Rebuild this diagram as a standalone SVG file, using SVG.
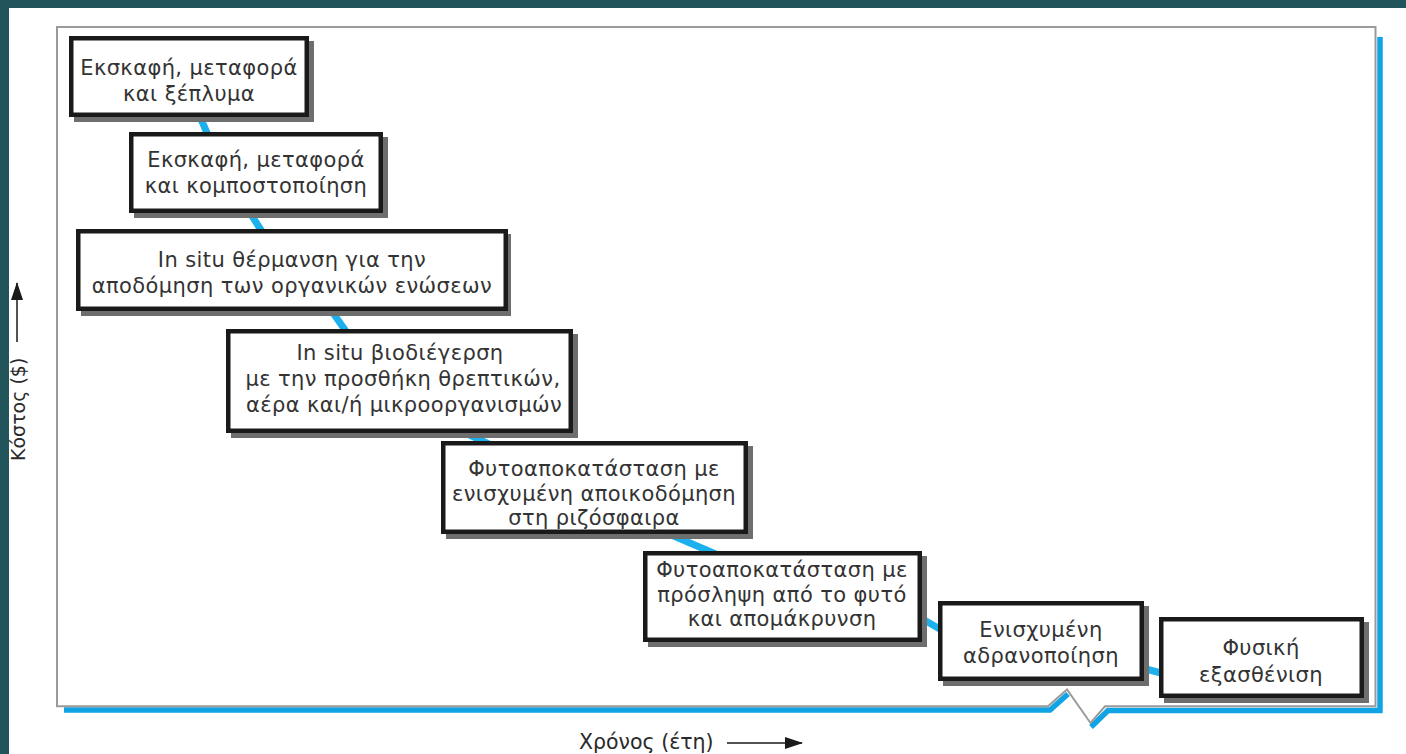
<svg xmlns="http://www.w3.org/2000/svg" width="1406" height="754" viewBox="0 0 1406 754">
<defs>
<style>
.bg{fill:#22555b}
.shadow{fill:#6e6e6e}
.box{fill:#fff;stroke:#1a1a1a;stroke-width:4.5}
.t{font-family:"DejaVu Sans","Noto Sans",sans-serif;font-size:21px;letter-spacing:0.4px;fill:#333;text-anchor:middle}
.ax{font-family:"DejaVu Sans","Noto Sans",sans-serif;font-size:19px;fill:#2a2a2a}
.conn{stroke:#1cb0ec;stroke-width:7;fill:none}
.frame{fill:none;stroke:#9a9a9a;stroke-width:2}
.fshadow{fill:none;stroke:#10a4e4;stroke-width:5.5;stroke-linejoin:miter}
</style>
<marker id="ah" markerWidth="18" markerHeight="12" refX="17" refY="6" orient="auto" markerUnits="userSpaceOnUse">
<path d="M0,0 L18,6 L0,12 z" fill="#1a1a1a"/>
</marker>
</defs>
<rect x="0" y="0" width="1406" height="754" fill="#fff"/>
<rect class="bg" x="0" y="0" width="1406" height="8"/>
<rect class="bg" x="0" y="0" width="9" height="754"/>

<g id="frame">
<path class="fshadow" d="M64,710 L1050,710 L1068,694"/>
<path class="fshadow" d="M1091,727 L1108,710.5 L1380,710.5 L1380,37"/>
<path class="frame" d="M1048,706.3 L57,706.3 L57,27 L1375.5,27 L1375.5,706.3 L1105,706.3 L1090.5,723 L1067,689.5 Z" stroke-linejoin="miter"/>
</g>

<g id="connectors">
<path class="conn" d="M195,105 L210,140 M245,205 L266,238 M326,303 L350,337 M455,428 L495,447 M655,528 L718,555 M912,613 L945,632 M1138,667 L1165,674"/>
</g>

<g id="node1">
<rect class="shadow" x="74" y="41" width="240" height="81"/>
<rect class="box" x="71.25" y="38.25" width="235.5" height="76.5"/>
<text class="t" x="189" y="75">Εκσκαφή, μεταφορά</text>
<text class="t" x="189" y="101">και ξέπλυμα</text>
</g>
<g id="node2">
<rect class="shadow" x="134" y="137" width="254" height="81"/>
<rect class="box" x="131.25" y="134.25" width="249.5" height="76.5"/>
<text class="t" x="256" y="167">Εκσκαφή, μεταφορά</text>
<text class="t" x="256" y="193">και κομποστοποίηση</text>
</g>
<g id="node3">
<rect class="shadow" x="81" y="234" width="430" height="82"/>
<rect class="box" x="78.25" y="231.25" width="427.5" height="77.5"/>
<text class="t" x="292" y="267">In situ θέρμανση για την</text>
<text class="t" x="292" y="293">αποδόμηση των οργανικών ενώσεων</text>
</g>
<g id="node4">
<rect class="shadow" x="231" y="334" width="347" height="104"/>
<rect class="box" x="228.25" y="331.25" width="342.5" height="99.5"/>
<text class="t" x="400" y="360">In situ βιοδιέγερση</text>
<text class="t" x="403" y="386">με την προσθήκη θρεπτικών,</text>
<text class="t" x="404" y="412">αέρα και/ή μικροοργανισμών</text>
</g>
<g id="node5">
<rect class="shadow" x="446" y="446" width="307" height="93"/>
<rect class="box" x="443.25" y="443.25" width="302.5" height="88.5"/>
<text class="t" x="594" y="476">Φυτοαποκατάσταση με</text>
<text class="t" x="594" y="501">ενισχυμένη αποικοδόμηση</text>
<text class="t" x="594" y="525">στη ριζόσφαιρα</text>
</g>
<g id="node6">
<rect class="shadow" x="648" y="556" width="279" height="91"/>
<rect class="box" x="645.25" y="553.25" width="274.5" height="86.5"/>
<text class="t" x="782" y="577">Φυτοαποκατάσταση με</text>
<text class="t" x="782" y="602">πρόσληψη από το φυτό</text>
<text class="t" x="782" y="626">και απομάκρυνση</text>
</g>
<g id="node7">
<rect class="shadow" x="943" y="606" width="206" height="80"/>
<rect class="box" x="940.25" y="603.25" width="201.5" height="75.5"/>
<text class="t" x="1041" y="637">Ενισχυμένη</text>
<text class="t" x="1041" y="663">αδρανοποίηση</text>
</g>
<g id="node8">
<rect class="shadow" x="1164" y="622" width="205" height="81"/>
<rect class="box" x="1161.25" y="619.25" width="200.5" height="76.5"/>
<text class="t" x="1261" y="655">Φυσική</text>
<text class="t" x="1261" y="682">εξασθένιση</text>
</g>

<g id="axis-y">
<text class="ax" transform="translate(25,461) rotate(-90)">Κόστος ($)</text>
<line x1="17" y1="342" x2="17" y2="283" stroke="#1a1a1a" stroke-width="1.5" marker-end="url(#ah)"/>
</g>
<g id="axis-x">
<text class="ax" x="579" y="749" style="font-size:20.5px">Χρόνος (έτη)</text>
<line x1="727" y1="743" x2="802" y2="743" stroke="#1a1a1a" stroke-width="1.5" marker-end="url(#ah)"/>
</g>
</svg>
